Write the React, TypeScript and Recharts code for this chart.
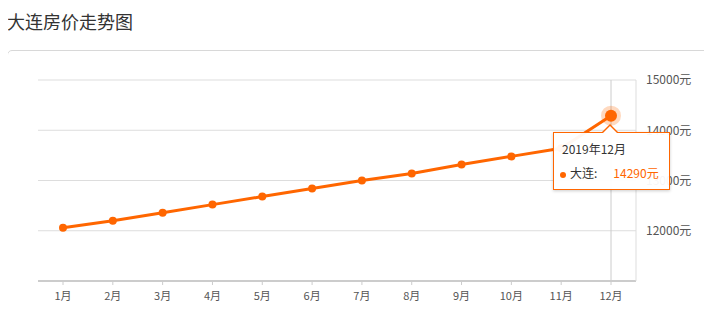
import React from 'react';
import { LineChart, Line, XAxis, YAxis, CartesianGrid, Tooltip } from 'recharts';

// Chart data
const months = ['1月', '2月', '3月', '4月', '5月', '6月', '7月', '8月', '9月', '10月', '11月', '12月'];
const prices = [12060, 12200, 12360, 12520, 12680, 12840, 13000, 13140, 13320, 13480, 13640, 14290];
const periods = months.map((m) => `2019年${m}`);
const yTicks = [11000, 12000, 13000, 14000, 15000];

const data = months.map((m, i) => ({ month: m, period: periods[i], price: prices[i] }));

const orange = '#f60';
const font = '"Noto Sans CJK SC", "Noto Sans", sans-serif';

const PriceTooltip = ({ active, payload }: any) => {
  if (!active || !payload || !payload.length) return null;
  const row = payload[0].payload;
  return (
    <div style={{ position: 'relative', fontFamily: font }}>
      <div
        style={{
          position: 'absolute', left: 49, top: -8, width: 0, height: 0,
          borderLeft: '8px solid transparent', borderRight: '8px solid transparent',
          borderBottom: `8px solid ${orange}`,
        }}
      />
      <div
        style={{
          position: 'absolute', left: 50, top: -6, width: 0, height: 0,
          borderLeft: '7px solid transparent', borderRight: '7px solid transparent',
          borderBottom: '7px solid #fff',
        }}
      />
      <div
        style={{
          width: 115, height: 56, boxSizing: 'content-box', background: 'rgba(255,255,255,0.95)',
          border: `1px solid ${orange}`, boxShadow: '0 1px 3px rgba(0,0,0,0.2)', fontSize: 12, color: '#333',
        }}
      >
        <div style={{ position: 'absolute', left: 9, top: 9, lineHeight: '16px' }}>{row.period}</div>
        <div style={{ position: 'absolute', left: 7, top: 33, lineHeight: '16px', whiteSpace: 'nowrap' }}>
          <span style={{ display: 'inline-block', width: 6, height: 6, borderRadius: 3, background: orange, marginRight: 4, verticalAlign: 'middle' }} />
          <span>大连:</span>
          <span style={{ color: orange, marginLeft: 16 }}>{row.price}元</span>
        </div>
      </div>
    </div>
  );
};

export default function App() {
  return (
    <div style={{ position: 'relative', margin: -8, width: 712, height: 314, overflow: 'hidden', background: '#fff', fontFamily: font }}>
      <div style={{ position: 'absolute', left: 7, top: 9, fontSize: 18, color: '#333', lineHeight: '24px' }}>大连房价走势图</div>
      <div style={{ position: 'absolute', left: 7, top: 50, width: 730, height: 300, border: '1px solid #d8d8d8', borderRadius: 5 }} />
      <div style={{ position: 'absolute', left: 0, top: 0 }}>
        <LineChart width={712} height={314} data={data} margin={{ top: 80, right: 0, left: 38, bottom: 0 }}>
          <CartesianGrid vertical={false} stroke="#ddd" />
          <XAxis
            dataKey="month"
            height={33}
            padding={{ left: 25, right: 25 }}
            axisLine={{ stroke: '#ccc', strokeWidth: 2 }}
            tickLine={{ stroke: '#ccc' }}
            tickSize={4}
            tickMargin={7}
            tick={{ fontSize: 11, fill: '#555', fontFamily: font }}
            interval={0}
          />
          <YAxis
            orientation="right"
            width={76}
            domain={[11000, 15000]}
            ticks={yTicks}
            tickFormatter={(v: number) => (v === 11000 ? '' : `${v}元`)}
            axisLine={{ stroke: '#ddd' }}
            tickLine={false}
            tickSize={0}
            tickMargin={10}
            tick={{ fontSize: 12, fill: '#555', fontFamily: font }}
          />
          <Tooltip
            content={<PriceTooltip />}
            defaultIndex={11}
            active
            position={{ x: 553, y: 132 }}
            cursor={{ stroke: '#ccc', strokeWidth: 1 }}
            isAnimationActive={false}
            wrapperStyle={{ outline: 'none' }}
          />
          <Line
            type="linear"
            dataKey="price"
            stroke={orange}
            strokeWidth={3}
            dot={{ r: 4, fill: orange, stroke: 'none' }}
            activeDot={{ r: 6, fill: orange, stroke: 'rgba(255,102,0,0.25)', strokeWidth: 8 }}
            isAnimationActive={false}
          />
        </LineChart>
      </div>
    </div>
  );
}
